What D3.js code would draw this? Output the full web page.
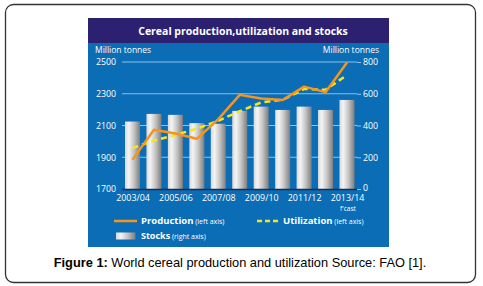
<!DOCTYPE html>
<html>
<head>
<meta charset="utf-8">
<script src="https://cdn.jsdelivr.net/npm/d3@7"></script>
<style>
  body { margin: 0; background: #fff; }
  svg { display: block; }
</style>
</head>
<body>
<div id="chart"></div>
<script>
// chart values
var years = ["2003/04", "2004/05", "2005/06", "2006/07", "2007/08", "2008/09",
             "2009/10", "2010/11", "2011/12", "2012/13", "2013/14"];
var tickYears = ["2003/04", "2005/06", "2007/08", "2009/10", "2011/12", "2013/14"];
var production = [1885, 2073, 2050, 2016, 2140, 2293, 2270, 2261, 2345, 2310, 2497];
var utilization = [1958, 2005, 2040, 2080, 2130, 2190, 2245, 2262, 2330, 2325, 2418];
var stocks = [425, 473, 467, 415, 411, 492, 519, 498, 519, 498, 561];
var leftTicks = [1700, 1900, 2100, 2300, 2500];
var rightTicks = [0, 200, 400, 600, 800];

var W = 483, H = 286;
var panel = {x: 88, y: 43, w: 301, h: 204},
    plot = {left: 122, right: 357, top: 62, bottom: 189};

var svg = d3.select("#chart").append("svg")
    .attr("width", W).attr("height", H)
    .style("font-family", "'Open Sans', sans-serif");

// gradient for the cylinder bars
var defs = svg.append("defs");
var grad = defs.append("linearGradient").attr("id", "barGrad");
grad.append("stop").attr("offset", "0%").attr("stop-color", "#d9d9d9");
grad.append("stop").attr("offset", "25%").attr("stop-color", "#f4f4f4");
grad.append("stop").attr("offset", "60%").attr("stop-color", "#c4c4c4");
grad.append("stop").attr("offset", "100%").attr("stop-color", "#7d7d7d");

// outer frame
svg.append("rect")
    .attr("x", 5.5).attr("y", 4.5).attr("width", 470).attr("height", 278)
    .attr("rx", 8).attr("fill", "#fff")
    .attr("stroke", "#333").attr("stroke-width", 1.3);

// header + blue panel
svg.append("rect").attr("x", panel.x).attr("y", 18).attr("width", panel.w).attr("height", 25)
    .attr("fill", "#2c2170");
svg.append("rect").attr("x", panel.x).attr("y", panel.y).attr("width", panel.w).attr("height", panel.h)
    .attr("fill", "#0b6db5");
svg.append("text").attr("x", 243).attr("y", 34.5).attr("text-anchor", "middle")
    .attr("fill", "#fff").attr("font-weight", "bold").attr("font-size", 10.5)
    .text("Cereal production,utilization and stocks");

// scales
var x = d3.scalePoint().domain(years).range([132.5, 347]);
var yL = d3.scaleLinear().domain([1700, 2500]).range([plot.bottom, plot.top]);
var yR = d3.scaleLinear().domain([0, 800]).range([plot.bottom, plot.top]);
var barW = 15;

// gridlines
svg.append("g").selectAll("line").data(leftTicks.slice(1)).join("line")
    .attr("x1", plot.left).attr("x2", plot.right)
    .attr("y1", function(d) { return yL(d); }).attr("y2", function(d) { return yL(d); })
    .attr("stroke", "#8cc2ec").attr("stroke-width", 1);

// axes, text only
var leftAxis = svg.append("g")
    .attr("transform", "translate(" + plot.left + ",0)")
    .call(d3.axisLeft(yL).tickValues(leftTicks).tickFormat(d3.format("d")).tickSize(0).tickPadding(5));
leftAxis.select(".domain").remove();
leftAxis.selectAll("text").attr("fill", "#fff").attr("font-size", 8.8)
    .attr("font-family", "'Open Sans', sans-serif").attr("text-anchor", "start").attr("x", -26);

var rightAxis = svg.append("g")
    .attr("transform", "translate(" + plot.right + ",0)")
    .call(d3.axisRight(yR).tickValues(rightTicks).tickSize(4).tickPadding(2));
rightAxis.select(".domain").remove();
rightAxis.selectAll("line").attr("stroke", "#8cc2ec");
rightAxis.selectAll("text").attr("fill", "#fff").attr("font-size", 8.8)
    .attr("font-family", "'Open Sans', sans-serif");
// pull the "0" up a touch so it clears the year label below
rightAxis.selectAll("text").filter(function(d) { return d === 0; }).attr("dy", "0.2em");

svg.append("text").attr("x", 95).attr("y", 53).attr("fill", "#fff").attr("font-size", 8.5)
    .text("Million tonnes");
svg.append("text").attr("x", 379).attr("y", 53).attr("fill", "#fff").attr("font-size", 8.5)
    .attr("text-anchor", "end").text("Million tonnes");

// bars (stocks, right axis)
svg.append("g").selectAll("rect").data(stocks).join("rect")
    .attr("x", function(d, i) { return x(years[i]) - barW / 2; })
    .attr("y", function(d) { return yR(d); })
    .attr("width", barW)
    .attr("height", function(d) { return yR(0) - yR(d); })
    .attr("fill", "url(#barGrad)");

// bottom axis line
svg.append("line").attr("x1", plot.left).attr("x2", plot.right)
    .attr("y1", plot.bottom + 0.5).attr("y2", plot.bottom + 0.5)
    .attr("stroke", "#1b2a5e").attr("stroke-width", 1.5);

var bottomAxis = svg.append("g")
    .attr("transform", "translate(0," + plot.bottom + ")")
    .call(d3.axisBottom(x).tickValues(tickYears).tickSize(0).tickPadding(6));
bottomAxis.select(".domain").remove();
bottomAxis.selectAll("text").attr("fill", "#fff").attr("font-size", 8.9)
    .attr("font-family", "'Open Sans', sans-serif");
svg.append("text").attr("x", x("2013/14") + 1).attr("y", 211).attr("fill", "#fff")
    .attr("font-size", 6.5).attr("text-anchor", "middle").text("f'cast");

// lines
var lineL = d3.line()
    .x(function(d, i) { return x(years[i]); })
    .y(function(d) { return yL(d); });

svg.append("path").datum(utilization)
    .attr("fill", "none").attr("stroke", "#f4e623").attr("stroke-width", 2.5)
    .attr("stroke-dasharray", "6,4").attr("d", lineL);

svg.append("path").datum(production)
    .attr("fill", "none").attr("stroke", "#f7941d").attr("stroke-width", 2.5)
    .attr("stroke-linejoin", "round").attr("d", lineL);

// legend
var lg = svg.append("g");
lg.append("line").attr("x1", 114).attr("x2", 137).attr("y1", 221).attr("y2", 221)
    .attr("stroke", "#f7941d").attr("stroke-width", 2.5);
var t1 = lg.append("text").attr("x", 141).attr("y", 223.5).attr("fill", "#fff");
t1.append("tspan").attr("font-weight", "bold").attr("font-size", 9.5).text("Production");
t1.append("tspan").attr("font-size", 7).text(" (left axis)");

lg.append("line").attr("x1", 257).attr("x2", 278).attr("y1", 221).attr("y2", 221)
    .attr("stroke", "#f4e623").attr("stroke-width", 2.5).attr("stroke-dasharray", "5,3");
var t2 = lg.append("text").attr("x", 283).attr("y", 223.5).attr("fill", "#fff");
t2.append("tspan").attr("font-weight", "bold").attr("font-size", 9.5).text("Utilization");
t2.append("tspan").attr("font-size", 7).text(" (left axis)");

lg.append("rect").attr("x", 116).attr("y", 232.5).attr("width", 19.5).attr("height", 7)
    .attr("fill", "url(#barGrad)");
var t3 = lg.append("text").attr("x", 141).attr("y", 238.5).attr("fill", "#fff");
t3.append("tspan").attr("font-weight", "bold").attr("font-size", 9).text("Stocks");
t3.append("tspan").attr("font-size", 7).text(" (right axis)");

// caption
var cap = svg.append("text").attr("x", 240).attr("y", 267).attr("text-anchor", "middle")
    .attr("font-family", "'Liberation Sans', Arial, sans-serif").attr("font-size", 12.8)
    .attr("fill", "#000");
cap.append("tspan").attr("font-weight", "bold").text("Figure 1:");
cap.append("tspan").text(" World cereal production and utilization Source: FAO [1].");
</script>
</body>
</html>
